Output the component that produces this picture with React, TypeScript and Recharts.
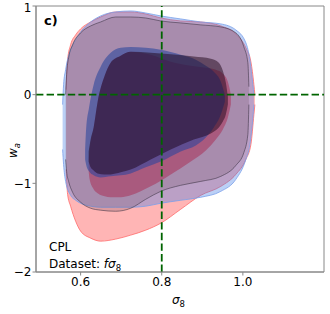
import React from "react";
import { ComposedChart, Area, XAxis, YAxis, ReferenceLine, ReferenceArea, Customized } from "recharts";

// [sigma8, w_a low, w_a high]
const redOuter: number[][] = [
  [0.5642, -0.843, 0.056], [0.5679, -1.124, 0.393], [0.5753, -1.258, 0.562], [0.5877, -1.427, 0.674],
  [0.6, -1.539, 0.742], [0.6247, -1.618, 0.82], [0.6494, -1.652, 0.876], [0.6864, -1.629, 0.933],
  [0.7235, -1.584, 0.933], [0.7605, -1.528, 0.91], [0.7975, -1.45, 0.865], [0.8469, -1.292, 0.831],
  [0.8963, -1.135, 0.82], [0.9457, -1.034, 0.775], [0.9827, -0.899, 0.685], [1.0074, -0.73, 0.528],
  [1.0198, -0.562, 0.371], [1.0272, -0.225, 0.112], [1.0296, -0.112, 0.0],
];
const blueOuter: number[][] = [
  [0.5556, -0.618, -0.112], [0.558, -0.787, 0.112], [0.563, -0.978, 0.281], [0.5753, -1.135, 0.506],
  [0.5877, -1.191, 0.618], [0.6, -1.225, 0.708], [0.6247, -1.258, 0.82], [0.6494, -1.27, 0.888],
  [0.6864, -1.27, 0.933], [0.7235, -1.27, 0.944], [0.7605, -1.258, 0.921], [0.7975, -1.225, 0.888],
  [0.8469, -1.191, 0.854], [0.8963, -1.157, 0.82], [0.9457, -1.09, 0.798], [0.9827, -0.955, 0.73],
  [1.0074, -0.73, 0.584], [1.0173, -0.562, 0.393], [1.0247, -0.258, 0.112], [1.0272, -0.112, 0.0],
];
const greyOuter: number[][] = [
  [0.563, -0.73, 0.0], [0.5654, -0.865, 0.225], [0.5704, -0.978, 0.416], [0.5802, -1.101, 0.562],
  [0.6, -1.213, 0.697], [0.6247, -1.281, 0.775], [0.6494, -1.303, 0.82], [0.6864, -1.315, 0.876],
  [0.7235, -1.281, 0.876], [0.7605, -1.18, 0.865], [0.7975, -1.09, 0.831], [0.8469, -1.022, 0.809],
  [0.8963, -0.978, 0.787], [0.9457, -0.921, 0.764], [0.9827, -0.798, 0.697], [1.0025, -0.652, 0.539],
  [1.0123, -0.449, 0.36], [1.0148, -0.112, 0.09],
];
const redInner: number[][] = [
  [0.6198, -0.865, -0.73], [0.6222, -0.955, -0.618], [0.6321, -1.067, -0.371], [0.642, -1.112, -0.079],
  [0.6593, -1.146, 0.213], [0.6741, -1.157, 0.36], [0.6988, -1.157, 0.438], [0.7235, -1.135, 0.483],
  [0.7728, -1.034, 0.449], [0.8222, -0.899, 0.371], [0.8716, -0.753, 0.326], [0.9086, -0.629, 0.303],
  [0.9333, -0.506, 0.281], [0.9506, -0.393, 0.236], [0.963, -0.258, 0.146], [0.9704, -0.112, 0.0],
];
const blueInner: number[][] = [
  [0.6111, -0.73, -0.618], [0.6135, -0.787, -0.393], [0.6208, -0.865, -0.146], [0.6321, -0.91, 0.112],
  [0.6494, -0.933, 0.315], [0.6741, -0.921, 0.472], [0.6988, -0.91, 0.528], [0.7235, -0.888, 0.539],
  [0.7605, -0.82, 0.528], [0.7975, -0.753, 0.506], [0.8469, -0.64, 0.449], [0.884, -0.573, 0.393],
  [0.9086, -0.483, 0.326], [0.9284, -0.371, 0.258], [0.9457, -0.225, 0.146], [0.9556, -0.079, 0.0],
];
const greyInner: number[][] = [
  [0.6198, -0.753, -0.64], [0.6247, -0.82, -0.506], [0.6321, -0.854, -0.371], [0.642, -0.888, -0.079],
  [0.6593, -0.899, 0.213], [0.6741, -0.899, 0.36], [0.6988, -0.876, 0.438], [0.7235, -0.843, 0.483],
  [0.7728, -0.73, 0.472], [0.8222, -0.618, 0.455], [0.879, -0.506, 0.43], [0.921, -0.438, 0.405],
  [0.9407, -0.371, 0.36], [0.9506, -0.303, 0.27], [0.958, -0.225, 0.135], [0.963, -0.112, -0.022],
];

const xTicks = [0.6, 0.8, 1.0];
const yTicks = [-2, -1, 0, 1];
const fiducialSigma8 = 0.8;
const fiducialWa = 0;

const toRows = (arr: number[][]) => arr.map(([x, lo, hi]) => ({ x, band: [lo, hi] }));

const FONT = "DejaVu Sans, sans-serif";

const Texts = () => (
  <g fontFamily={FONT} fill="#000">
    <text x={44} y={25} fontSize={13} fontWeight="bold">c)</text>
    <text x={49} y={251} fontSize={12}>CPL</text>
    <text x={49} y={268} fontSize={12}>
      Dataset: <tspan fontStyle="italic">fσ</tspan><tspan fontSize={8.5} dy={2.5}>8</tspan>
    </text>
    <text x={172} y={304} fontSize={12}>
      <tspan fontStyle="italic">σ</tspan><tspan fontSize={8.5} dy={2.5}>8</tspan>
    </text>
    <text transform="translate(17,158) rotate(-90)" fontSize={12}>
      <tspan fontStyle="italic">w</tspan><tspan fontSize={8.5} dy={2.5} fontStyle="italic">a</tspan>
    </text>
  </g>
);

export default function App() {
  const fmtY = (v: number) => (v < 0 ? "\u2212" + Math.abs(v) : String(v));
  return (
    <div style={{ position: "absolute", left: 0, top: 0 }}>
      <ComposedChart width={330} height={314} margin={{ top: 6, right: 6, left: 0, bottom: 0 }}>
        <XAxis type="number" dataKey="x" domain={[0.49, 1.2]} ticks={xTicks} allowDataOverflow
          tickFormatter={(v: number) => v.toFixed(1)} height={42} tickSize={3.5} tickMargin={1.5}
          stroke="#888" tick={{ fill: "#000", fontSize: 12, fontFamily: FONT }} />
        <YAxis type="number" domain={[-2, 1]} ticks={yTicks} allowDataOverflow width={36}
          tickFormatter={fmtY} tickSize={3.5} tickMargin={1}
          stroke="#888" tick={{ fill: "#000", fontSize: 12, fontFamily: FONT }} />
        <Area data={toRows(redOuter)} dataKey="band" type="monotone" fill="#ff5a5a" fillOpacity={0.45}
          stroke="#ff6b6b" strokeWidth={0.8} isAnimationActive={false} />
        <Area data={toRows(blueOuter)} dataKey="band" type="monotone" fill="#3c78e6" fillOpacity={0.35}
          stroke="#7aa0ea" strokeWidth={0.8} isAnimationActive={false} />
        <Area data={toRows(greyOuter)} dataKey="band" type="monotone" fill="#6e5064" fillOpacity={0.25}
          stroke="#3a3040" strokeOpacity={0.7} strokeWidth={0.8} isAnimationActive={false} />
        <Area data={toRows(redInner)} dataKey="band" type="monotone" fill="#aa2850" fillOpacity={0.5}
          stroke="none" isAnimationActive={false} />
        <Area data={toRows(blueInner)} dataKey="band" type="monotone" fill="#2a459c" fillOpacity={0.58}
          stroke="none" isAnimationActive={false} />
        <Area data={toRows(greyInner)} dataKey="band" type="monotone" fill="#1e0418" fillOpacity={0.5}
          stroke="none" isAnimationActive={false} />
        <ReferenceLine x={fiducialSigma8} stroke="#006400" strokeWidth={1.8} strokeDasharray="7.4 3.2" />
        <ReferenceLine y={fiducialWa} stroke="#006400" strokeWidth={1.8} strokeDasharray="7.4 3.2" />
        <ReferenceArea x1={0.49} x2={1.2} y1={-2} y2={1} fill="none" stroke="#888" strokeWidth={1} />
        <Customized component={Texts} />
      </ComposedChart>
    </div>
  );
}
